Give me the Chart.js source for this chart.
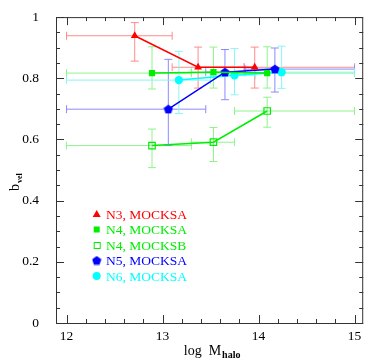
<!DOCTYPE html>
<html>
<head>
<meta charset="utf-8">
<script src="https://cdn.jsdelivr.net/npm/chart.js@4.4.0/dist/chart.umd.min.js"></script>
<style>
  html, body { margin: 0; padding: 0; background: #fff; }
</style>
</head>
<body>
<canvas id="bvel" width="369" height="361"></canvas>
<script>
// series names
const seriesLabels = ['N3, MOCKSA', 'N4, MOCKSA', 'N4, MOCKSB', 'N5, MOCKSA', 'N6, MOCKSA'];

// N3, MOCKSA
const n3aX = [12.71, 13.37, 13.96];
const n3aY = [0.939, 0.836, 0.836];
const n3aXlo = [12.0, 13.10, 13.85];
const n3aXhi = [13.10, 13.85, 15.0];
const n3aYlo = [0.856, 0.768, 0.768];
const n3aYhi = [0.982, 0.902, 0.902];

// N4, MOCKSA
const n4aX = [12.89, 13.53, 14.09];
const n4aY = [0.817, 0.820, 0.817];
const n4aXlo = [12.0, 13.30, 13.75];
const n4aXhi = [13.30, 13.75, 15.0];
const n4aYlo = [0.765, 0.768, 0.768];
const n4aYhi = [0.903, 0.902, 0.903];

// N4, MOCKSB
const n4bX = [12.89, 13.53, 14.09];
const n4bY = [0.580, 0.591, 0.693];
const n4bXlo = [12.0, 13.30, 13.75];
const n4bXhi = [13.30, 13.75, 15.0];
const n4bYlo = [0.508, 0.528, 0.640];
const n4bYhi = [0.634, 0.639, 0.738];

// N5, MOCKSA
const n5aX = [13.06, 13.65, 14.17];
const n5aY = [0.699, 0.820, 0.830];
const n5aXlo = [12.0, 13.45, 13.86];
const n5aXhi = [13.45, 13.86, 15.0];
const n5aYlo = [0.580, 0.730, 0.755];
const n5aYhi = [0.862, 0.894, 0.899];

// N6, MOCKSA
const n6aX = [13.17, 13.75, 14.24];
const n6aY = [0.794, 0.810, 0.820];
const n6aXlo = [12.0, 13.50, 13.97];
const n6aXhi = [13.50, 13.97, 15.0];
const n6aYlo = [0.685, 0.746, 0.767];
const n6aYhi = [0.888, 0.897, 0.905];

// tick labels
const xTickValues = [12, 13, 14, 15];
const yTickValues = [0, 0.2, 0.4, 0.6, 0.8, 1];

const serif = '"Liberation Serif", "DejaVu Serif", serif';

// pentagon marker for N5
const pentagon = document.createElement('canvas');
pentagon.width = 10;
pentagon.height = 10;
(function () {
  const c = pentagon.getContext('2d');
  c.fillStyle = '#0000ff';
  c.beginPath();
  for (let i = 0; i < 5; i++) {
    const a = -Math.PI / 2 + i * 2 * Math.PI / 5;
    const px = 5 + 4.8 * Math.cos(a);
    const py = 5.3 + 4.8 * Math.sin(a);
    if (i === 0) c.moveTo(px, py); else c.lineTo(px, py);
  }
  c.closePath();
  c.fill();
})();

const series = [
  { x: n3aX, y: n3aY, xlo: n3aXlo, xhi: n3aXhi, ylo: n3aYlo, yhi: n3aYhi, color: '#ff0000', err: '#ff8a8a', style: 'triangle', radius: 4.5, fill: true },
  { x: n4aX, y: n4aY, xlo: n4aXlo, xhi: n4aXhi, ylo: n4aYlo, yhi: n4aYhi, color: '#00ee00', err: '#8cf58c', style: 'rect', radius: 4.4, fill: true },
  { x: n4bX, y: n4bY, xlo: n4bXlo, xhi: n4bXhi, ylo: n4bYlo, yhi: n4bYhi, color: '#00ee00', err: '#8cf58c', style: 'rect', radius: 4.6, fill: false },
  { x: n5aX, y: n5aY, xlo: n5aXlo, xhi: n5aXhi, ylo: n5aYlo, yhi: n5aYhi, color: '#0000ff', err: '#8a8aff', style: pentagon, radius: 5, fill: true },
  { x: n6aX, y: n6aY, xlo: n6aXlo, xhi: n6aXhi, ylo: n6aYlo, yhi: n6aYhi, color: '#00ffff', err: '#8af5f5', style: 'circle', radius: 4.2, fill: true },
];

const datasets = series.map((s, i) => ({
  label: seriesLabels[i],
  data: s.x.map((v, j) => ({ x: v, y: s.y[j] })),
  showLine: true,
  borderColor: s.color,
  borderWidth: 1.5,
  pointStyle: s.style,
  pointRadius: s.radius,
  pointBackgroundColor: s.fill ? s.color : 'rgba(255,255,255,0)',
  pointBorderColor: s.color,
  pointBorderWidth: s.fill ? 0 : 1.2,
  backgroundColor: s.color,
}));

// error bars, frame, inward ticks, axis titles, legend
const decorations = {
  id: 'decorations',
  beforeDatasetsDraw(chart) {
    const { ctx, scales: { x, y } } = chart;
    ctx.save();
    ctx.lineWidth = 1;
    series.forEach((s) => {
      ctx.strokeStyle = s.err;
      s.x.forEach((xv, j) => {
        const px = x.getPixelForValue(xv);
        const py = y.getPixelForValue(s.y[j]);
        const x0 = x.getPixelForValue(s.xlo[j]);
        const x1 = x.getPixelForValue(s.xhi[j]);
        const y0 = y.getPixelForValue(s.ylo[j]);
        const y1 = y.getPixelForValue(s.yhi[j]);
        ctx.beginPath();
        ctx.moveTo(x0, py); ctx.lineTo(x1, py);
        ctx.moveTo(x0, py - 4); ctx.lineTo(x0, py + 4);
        ctx.moveTo(x1, py - 4); ctx.lineTo(x1, py + 4);
        ctx.moveTo(px, y0); ctx.lineTo(px, y1);
        ctx.moveTo(px - 4, y0); ctx.lineTo(px + 4, y0);
        ctx.moveTo(px - 4, y1); ctx.lineTo(px + 4, y1);
        ctx.stroke();
      });
    });
    ctx.restore();
  },
  afterDraw(chart) {
    const { ctx, chartArea: a, scales: { x, y } } = chart;
    ctx.save();
    ctx.strokeStyle = '#333';
    ctx.lineWidth = 1;
    ctx.strokeRect(a.left + 0.5, a.top + 0.5, a.right - a.left - 1, a.bottom - a.top);

    ctx.beginPath();
    for (let v = 12; v <= 15.001; v += 0.2) {
      const px = Math.round(x.getPixelForValue(v)) + 0.5;
      const len = Math.abs(v - Math.round(v)) < 1e-6 ? 8 : 4;
      ctx.moveTo(px, a.bottom); ctx.lineTo(px, a.bottom - len);
      ctx.moveTo(px, a.top); ctx.lineTo(px, a.top + len);
    }
    for (let k = 0; k <= 20; k++) {
      const py = Math.round(y.getPixelForValue(k * 0.05)) + 0.5;
      const len = k % 4 === 0 ? 8 : 4;
      ctx.moveTo(a.left, py); ctx.lineTo(a.left + len, py);
      ctx.moveTo(a.right, py); ctx.lineTo(a.right - len, py);
    }
    ctx.stroke();

    // axis titles
    ctx.fillStyle = '#000';
    ctx.textBaseline = 'alphabetic';
    ctx.textAlign = 'left';
    ctx.font = '14px ' + serif;
    const main = 'log  M';
    const sub = 'halo';
    const mw = ctx.measureText(main).width;
    ctx.font = 'bold 10px ' + serif;
    const sw = ctx.measureText(sub).width;
    const cx = (a.left + a.right) / 2 + 2;
    const sx = cx - (mw + sw) / 2;
    ctx.font = '14px ' + serif;
    ctx.fillText(main, sx, 355);
    ctx.font = 'bold 10px ' + serif;
    ctx.fillText(sub, sx + mw + 1, 358);

    ctx.save();
    ctx.translate(19, 191);
    ctx.rotate(-Math.PI / 2);
    ctx.font = '14px ' + serif;
    ctx.fillText('b', 0, 0);
    const bw = ctx.measureText('b').width;
    ctx.font = 'bold 8px ' + serif;
    ctx.fillText('vel', bw + 1, 3);
    ctx.restore();

    // legend
    ctx.font = '13.5px ' + serif;
    ctx.textBaseline = 'middle';
    const rowY = [214, 229.5, 245, 260.5, 276];
    series.forEach((s, i) => {
      const mx = 96.7;
      const my = rowY[i];
      ctx.fillStyle = s.color;
      ctx.strokeStyle = s.color;
      ctx.lineWidth = 1;
      if (s.style === 'triangle') {
        ctx.beginPath();
        ctx.moveTo(mx, my - 4); ctx.lineTo(mx + 4, my + 3); ctx.lineTo(mx - 4, my + 3);
        ctx.closePath(); ctx.fill();
      } else if (s.style === 'rect' && s.fill) {
        ctx.fillRect(mx - 3, my - 3, 6, 6);
      } else if (s.style === 'rect') {
        ctx.strokeRect(mx - 2.5, my - 2.5, 6, 6);
      } else if (s.style === 'circle') {
        ctx.beginPath(); ctx.arc(mx, my, 4, 0, Math.PI * 2); ctx.fill();
      } else {
        ctx.drawImage(pentagon, mx - 5, my - 5, 10, 10);
      }
      ctx.fillText(seriesLabels[i], 106, my + 1);
    });
    ctx.restore();
  }
};

new Chart(document.getElementById('bvel').getContext('2d'), {
  type: 'scatter',
  data: { datasets: datasets },
  options: {
    responsive: false,
    animation: false,
    devicePixelRatio: 1,
    layout: { padding: { top: 12, right: 1, left: 0, bottom: 0 } },
    plugins: { legend: { display: false }, tooltip: { enabled: false } },
    scales: {
      x: {
        type: 'linear',
        min: 11.89,
        max: 15.09,
        grid: { display: false },
        border: { display: false },
        afterFit: (s) => { s.height = 38; },
        afterBuildTicks: (s) => { s.ticks = xTickValues.map((v) => ({ value: v })); },
        ticks: {
          color: '#000',
          padding: -3,
          maxRotation: 0,
          font: { family: serif, size: 13.5 },
          callback: (v) => String(v),
        },
      },
      y: {
        type: 'linear',
        min: 0,
        max: 1,
        grid: { display: false },
        border: { display: false },
        afterFit: (s) => { s.width = 56; },
        afterBuildTicks: (s) => { s.ticks = yTickValues.map((v) => ({ value: v })); },
        ticks: {
          color: '#000',
          padding: 9,
          font: { family: serif, size: 13.5 },
          callback: (v) => String(Math.round(v * 10) / 10),
        },
      },
    },
  },
  plugins: [decorations],
});
</script>
</body>
</html>
